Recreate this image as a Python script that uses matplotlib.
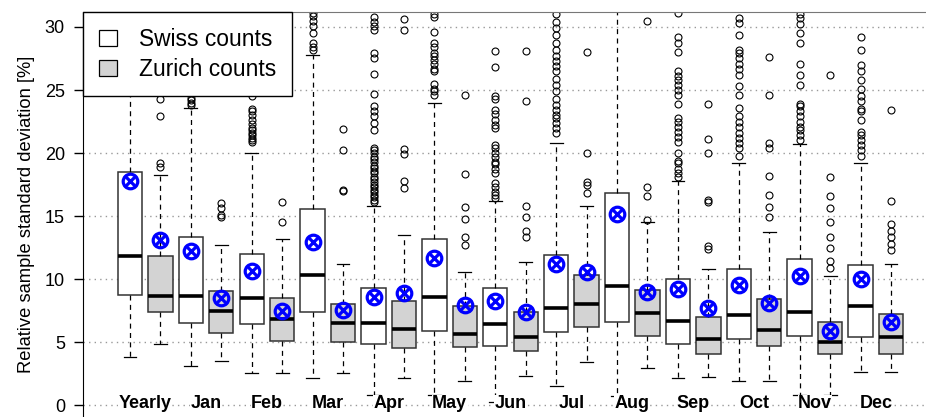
import matplotlib
matplotlib.use('Agg')
import matplotlib.pyplot as plt
from matplotlib.patches import Patch

plt.rcParams['font.family'] = ['Liberation Sans', 'DejaVu Sans']

groups = ['Yearly', 'Jan', 'Feb', 'Mar', 'Apr', 'May', 'Jun',
          'Jul', 'Aug', 'Sep', 'Oct', 'Nov', 'Dec']
series_labels = ['Swiss counts', 'Zurich counts']

# Swiss counts (white boxes)
swiss_lo = [3.84, 3.12, 2.51, 2.12, 0.79, 0.79, 0.21, 1.53, 0.71, 2.12, 1.90, 0.79, 2.65]
swiss_q1 = [8.73, 6.48, 6.43, 7.41, 4.81, 5.87, 4.71, 5.82, 6.61, 4.81, 5.21, 5.48, 5.40]
swiss_med = [11.83, 8.63, 8.52, 10.32, 6.51, 8.60, 6.40, 7.72, 9.42, 6.69, 7.12, 7.41, 7.88]
swiss_q3 = [18.52, 13.36, 11.98, 15.58, 9.31, 13.20, 9.31, 11.90, 16.85, 9.97, 10.82, 11.61, 11.10]
swiss_hi = [34.0, 23.54, 20.0, 27.8, 15.82, 24.0, 16.2, 20.77, 34.0, 17.8, 19.2, 20.7, 19.2]
swiss_mean = [17.78, 12.25, 10.66, 12.90, 8.60, 11.69, 8.25, 11.16, 15.16, 9.23, 9.52, 10.24, 10.03]
swiss_out = [
    [],
    [23.8, 24.0, 24.2, 24.4],
    [20.9, 21.0, 21.2, 21.4, 21.6, 21.8, 22.0, 22.3, 22.6, 23.0, 23.3, 23.5, 24.5],
    [28.2, 28.4, 28.7, 29.5, 30.1, 30.5, 30.9, 31.1],
    [16.1, 16.3, 16.5, 16.7, 16.9, 17.1, 17.3, 17.5, 17.7, 17.9, 18.1, 18.4, 18.6, 18.8,
     19.0, 19.3, 19.5, 19.7, 20.0, 20.2, 20.4, 21.8, 22.4, 22.9, 23.3, 23.7, 24.7, 26.3,
     27.5, 27.9, 29.8, 30.1, 30.4, 30.8],
    [24.6, 24.9, 25.1, 25.5, 26.5, 26.7, 27.1, 27.4, 27.7, 27.9, 28.4, 28.7, 29.6, 30.8, 31.0],
    [16.4, 16.7, 16.9, 17.3, 17.6, 18.4, 18.7, 19.1, 19.3, 19.7, 20.0, 20.4, 20.6, 22.0,
     22.2, 22.6, 23.1, 23.4, 24.3, 24.5, 26.8, 28.1],
    [21.6, 22.0, 22.4, 22.8, 23.0, 23.4, 23.8, 24.3, 24.9, 25.4, 25.9, 26.5, 26.9, 27.3,
     27.7, 28.2, 28.7, 29.4, 29.9, 30.4, 31.0],
    [],
    [18.1, 18.4, 18.7, 19.2, 19.4, 20.0, 20.9, 21.3, 21.7, 22.1, 22.5, 22.8, 23.9, 24.6,
     25.0, 25.4, 25.8, 26.1, 26.5, 28.0, 28.7, 29.2, 31.1],
    [19.8, 20.4, 20.8, 21.2, 21.6, 22.1, 22.5, 22.9, 23.6, 24.6, 25.3, 26.2, 26.7, 27.1,
     27.5, 27.9, 28.2, 29.4, 30.3, 30.7],
    [21.0, 21.4, 21.8, 22.1, 22.5, 22.9, 23.3, 23.7, 23.9, 25.4, 26.2, 27.1, 28.7, 29.5,
     30.2, 30.7, 31.0],
    [19.8, 20.2, 20.6, 21.0, 21.4, 21.7, 22.6, 23.3, 23.5, 24.1, 24.5, 25.1, 25.8, 26.5,
     27.0, 28.2, 29.2],
]

# Zurich counts (grey boxes)
zurich_lo = [4.84, 3.52, 2.51, 2.51, 2.12, 1.90, 2.33, 3.44, 2.91, 2.20, 1.90, 0.79, 2.65]
zurich_q1 = [7.41, 5.74, 5.10, 5.03, 4.50, 4.58, 4.31, 6.19, 5.48, 4.02, 4.71, 4.02, 4.02]
zurich_med = [8.68, 7.46, 6.83, 6.51, 6.03, 5.61, 5.37, 8.02, 7.28, 5.26, 5.95, 4.97, 5.42]
zurich_q3 = [11.80, 9.02, 8.52, 7.99, 8.25, 7.86, 7.41, 10.29, 9.15, 7.01, 8.39, 6.61, 7.20]
zurich_hi = [18.23, 12.70, 13.20, 11.19, 13.49, 10.58, 11.38, 15.82, 14.52, 10.82, 13.70, 10.21, 11.19]
zurich_mean = [13.10, 8.47, 7.46, 7.54, 8.86, 7.94, 7.36, 10.58, 8.94, 7.67, 8.12, 5.90, 6.61]
zurich_out = [
    [18.9, 19.2, 22.9, 24.3],
    [14.9, 15.1, 15.6, 16.0],
    [14.5, 16.1],
    [17.0, 17.1, 20.2, 21.9],
    [17.2, 17.8, 19.9, 20.3, 29.8, 30.6],
    [12.7, 13.3, 14.8, 15.7, 18.3, 24.6],
    [13.3, 13.8, 14.9, 15.8, 24.1, 28.1],
    [16.8, 17.5, 17.7, 20.0, 28.0],
    [14.7, 16.6, 17.3, 30.5],
    [12.4, 12.6, 16.1, 16.3, 20.0, 21.1, 23.9],
    [14.9, 15.7, 16.7, 18.2, 20.4, 20.8, 24.6, 27.6],
    [10.9, 11.4, 12.5, 13.3, 14.5, 15.6, 16.6, 18.1, 26.2],
    [12.3, 12.8, 13.3, 13.8, 14.4, 16.2, 23.4],
]

yticks = [0, 5, 10, 15, 20, 25, 30]
ylabel = 'Relative sample standard deviation [%]'

W, H = 926, 417
fig = plt.figure(figsize=(W / 100, H / 100), dpi=100)
ax = fig.add_axes([83 / W, 0, 1 - 83 / W, 405 / H])

n = len(groups)
swiss_pos = [2 * i + 1 for i in range(n)]
zurich_pos = [2 * i + 2 for i in range(n)]


def make_stats(lo, q1, med, q3, hi, mean, out):
    return [dict(whislo=lo[i], q1=q1[i], med=med[i], q3=q3[i], whishi=hi[i],
                 mean=mean[i], fliers=out[i]) for i in range(len(lo))]


common = dict(widths=0.8, patch_artist=True, manage_ticks=False, capwidths=0.42,
              medianprops=dict(color='black', linewidth=2.6, solid_capstyle='butt'),
              whiskerprops=dict(color='black', linestyle=(0, (4, 3.5)), linewidth=0.9),
              capprops=dict(color='black', linewidth=0.9),
              flierprops=dict(marker='o', markerfacecolor='none', markeredgecolor='black',
                              markersize=5, markeredgewidth=0.8, linestyle='none'))

ax.bxp(make_stats(swiss_lo, swiss_q1, swiss_med, swiss_q3, swiss_hi, swiss_mean, swiss_out),
       positions=swiss_pos,
       boxprops=dict(facecolor='white', edgecolor='#333333', linewidth=1.1), **common)
ax.bxp(make_stats(zurich_lo, zurich_q1, zurich_med, zurich_q3, zurich_hi, zurich_mean, zurich_out),
       positions=zurich_pos,
       boxprops=dict(facecolor='#D3D3D3', edgecolor='#333333', linewidth=1.1), **common)

for pos, mean in ((swiss_pos, swiss_mean), (zurich_pos, zurich_mean)):
    ax.plot(pos, mean, linestyle='none', marker='o', markersize=10.5, markerfacecolor='none',
            markeredgecolor='#0000FF', markeredgewidth=2.3, zorder=5)
    ax.plot(pos, mean, linestyle='none', marker='x', markersize=7.6,
            markeredgecolor='#0000FF', markeredgewidth=2.3, zorder=5)

for i, g in enumerate(groups):
    ax.text((swiss_pos[i] + zurich_pos[i]) / 2, 0.1, g, ha='center', va='center',
            fontsize=13, fontweight='bold', zorder=4,
            bbox=dict(facecolor='white', edgecolor='none', pad=0.3))

ax.set_xlim(-0.544, 27.15)
ax.set_ylim(-0.95, 31.19)
ax.set_xticks([])
ax.set_yticks(yticks)
ax.tick_params(axis='y', length=6.5, width=1, labelsize=13, pad=6.5)
ax.set_ylabel(ylabel, fontsize=13.2, labelpad=7)

ax.yaxis.grid(True, color='#999999', linestyle=(0, (1, 3)), linewidth=1.0)
ax.set_axisbelow(True)

ax.spines['right'].set_visible(False)
ax.spines['bottom'].set_visible(False)
ax.spines['top'].set_color('#777777')
ax.spines['left'].set_color('black')

handles = [Patch(facecolor='white', edgecolor='black', linewidth=0.9),
           Patch(facecolor='#D3D3D3', edgecolor='black', linewidth=0.9)]
leg = ax.legend(handles, series_labels, loc='upper left', bbox_to_anchor=(0, 1),
                borderaxespad=0, fancybox=False, framealpha=1, edgecolor='black',
                fontsize=16.4, handlelength=0.8, handleheight=0.7, handletextpad=0.95,
                borderpad=0.7, labelspacing=0.29)
leg.get_frame().set_linewidth(1.0)
leg.set_zorder(10)

fig.savefig('out.png', dpi=100)
